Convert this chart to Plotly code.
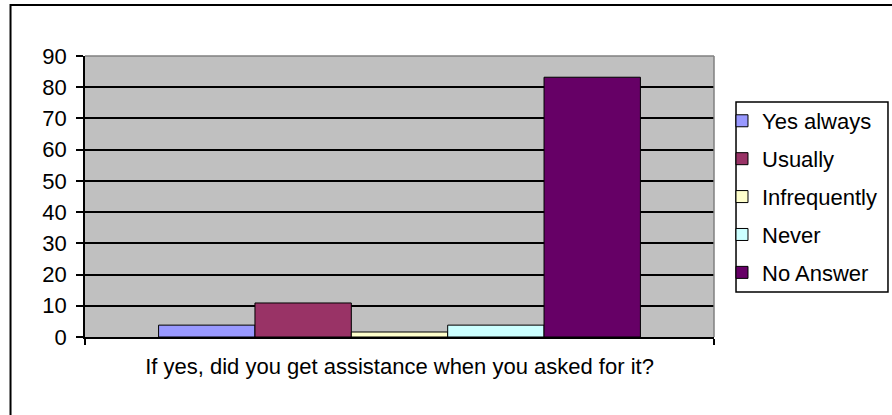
import plotly.graph_objects as go

categories = ["If yes, did you get assistance when you asked for it?"]
series_names = ["Yes always", "Usually", "Infrequently", "Never", "No Answer"]
series_values = [3.8, 10.9, 1.6, 3.8, 83.2]
series_colors = ["#9999FF", "#993366", "#FFFFCC", "#CCFFFF", "#660066"]
y_ticks = [0, 10, 20, 30, 40, 50, 60, 70, 80, 90]

FONT = "Liberation Sans, Arial, sans-serif"
FS = 22

fig = go.Figure()
for name, val, col in zip(series_names, series_values, series_colors):
    fig.add_trace(go.Bar(
        x=categories, y=[val], name=name, legendgroup=name,
        marker=dict(color=col, line=dict(color="black", width=1)),
    ))

fig.update_layout(
    width=914, height=415,
    margin=dict(l=85, r=200, t=56, b=78),
    paper_bgcolor="white",
    plot_bgcolor="#C0C0C0",
    barmode="group",
    bargap=0.234,
    bargroupgap=0,
    font=dict(family=FONT, size=FS, color="black"),
    showlegend=True,
    legend=dict(
        x=1.0127, xanchor="left", y=0.8435, yanchor="top",
        bgcolor="rgba(0,0,0,0)", bordercolor="rgba(0,0,0,0)", borderwidth=0,
        font=dict(family=FONT, size=FS, color="black"),
        tracegroupgap=6.3, itemwidth=30,
    ),
    xaxis=dict(
        range=[-0.5, 0.5],
        showline=True, linecolor="black", linewidth=1.5,
        ticks="outside", ticklen=6, tickcolor="black", tickwidth=1.5,
        tickson="boundaries",
        showgrid=False, zeroline=False,
        ticklabelstandoff=9,
        tickfont=dict(family=FONT, size=FS, color="black"),
    ),
    yaxis=dict(
        range=[0, 90],
        tickvals=y_ticks,
        showline=True, linecolor="black", linewidth=1.5,
        ticks="outside", ticklen=7, tickcolor="black", tickwidth=1.5,
        showgrid=True, gridcolor="black", gridwidth=1.5,
        zeroline=False,
        ticklabelstandoff=5,
        tickfont=dict(family=FONT, size=FS, color="black"),
    ),
    shapes=[
        # outer chart border
        dict(type="rect", xref="paper", yref="paper",
             x0=-0.1184, x1=1.40, y0=-0.32, y1=1.1815,
             line=dict(color="black", width=2), fillcolor="rgba(0,0,0,0)", layer="above"),
        # plot area top and right edges (gray)
        dict(type="line", xref="paper", yref="paper", x0=0, x1=1, y0=1, y1=1,
             line=dict(color="#808080", width=1.5), layer="above"),
        dict(type="line", xref="paper", yref="paper", x0=1, x1=1, y0=0, y1=1,
             line=dict(color="#808080", width=1.5), layer="above"),
        # legend box
        dict(type="rect", xref="paper", yref="paper",
             x0=1.035, x1=1.2766, y0=0.160, y1=0.836,
             line=dict(color="black", width=1.5), fillcolor="white", layer="above"),
    ],
)

fig.write_html("out.html", config={"displayModeBar": False},
               post_script="document.body.style.margin='0';")
